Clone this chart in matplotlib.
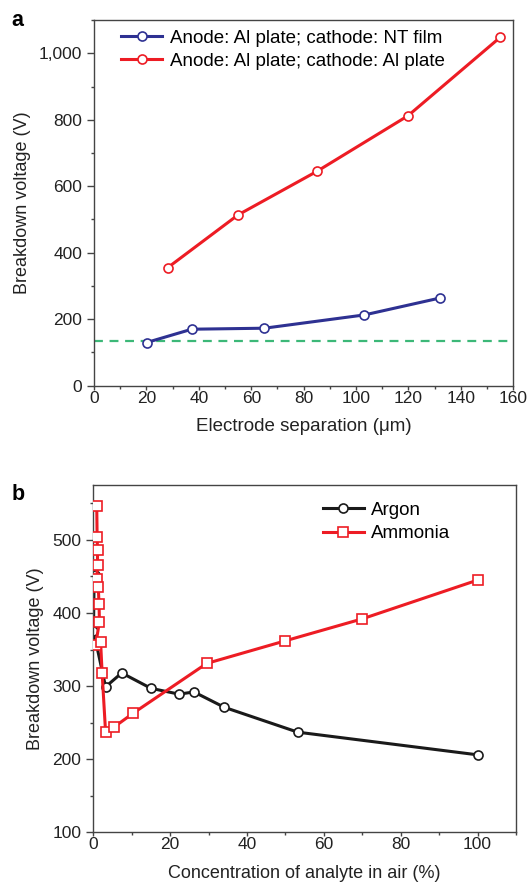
import numpy as np
import matplotlib
matplotlib.use("Agg")
import matplotlib.pyplot as plt
from matplotlib.ticker import MultipleLocator, FuncFormatter

plt.rcParams['font.family'] = ['Liberation Sans', 'DejaVu Sans']

# panel a data
sep_nt = [20.1, 37.3, 65.0, 103.2, 132.1]
volt_nt = [130, 170, 173, 213, 264]
sep_al = [28.1, 55, 85.1, 119.8, 155]
volt_al = [355, 514, 645, 812, 1048]
paschen_min = 135

# panel b data
argon_conc = [0.4, 0.2, 0.05, 3.2, 7.4, 15.0, 22.3, 26.2, 34.1, 53.2, 100]
argon_volt = [452, 440, 376, 299, 318, 297, 289, 292, 271, 237, 206]
ammonia_conc = [0.9, 1.0, 1.1, 1.1, 0.9, 1.3, 1.5, 1.6, 0.6, 1.9, 2.3, 3.2, 5.4, 10.4, 29.5, 50.0, 70.0, 100]
ammonia_volt = [547, 504, 486, 465, 447, 436, 412, 388, 356, 361, 318, 237, 244, 263, 331, 362, 392, 445]

blue = '#2e3192'
red = '#ed1c24'
green = '#3cb878'
spine_c = '#444444'
text_c = '#222222'

fig = plt.figure(figsize=(5.3, 8.9), dpi=100)
ax1 = fig.add_axes([0.1774, 0.5666, 0.7911, 0.4109])
ax2 = fig.add_axes([0.1760, 0.0648, 0.7976, 0.3902])


def style(ax):
    for s in ax.spines.values():
        s.set_color(spine_c)
        s.set_linewidth(1.0)
    ax.tick_params(which='both', direction='out', colors=spine_c, labelcolor=text_c,
                   labelsize=12.5, top=False, right=False)
    ax.tick_params(axis='y', which='major', length=5, width=1)
    ax.tick_params(axis='y', which='minor', length=2.5, width=1)
    ax.tick_params(axis='x', which='major', length=3, width=1, pad=0.5)
    ax.tick_params(axis='x', which='minor', length=2, width=1)


# panel a
ax1.axhline(paschen_min, color=green, lw=1.6, ls=(0, (4, 3)), zorder=1)
ax1.plot(sep_nt, volt_nt, color=blue, lw=2.2, marker='o', ms=6.5, mfc='white',
         mec=blue, mew=1.2, label='Anode: Al plate; cathode: NT film', zorder=3)
ax1.plot(sep_al, volt_al, color=red, lw=2.2, marker='o', ms=6.5, mfc='white',
         mec=red, mew=1.2, label='Anode: Al plate; cathode: Al plate', zorder=3)
ax1.set_xlim(0, 160)
ax1.set_ylim(0, 1100)
ax1.xaxis.set_major_locator(MultipleLocator(20))
ax1.xaxis.set_minor_locator(MultipleLocator(10))
ax1.yaxis.set_major_locator(MultipleLocator(200))
ax1.yaxis.set_minor_locator(MultipleLocator(100))
ax1.yaxis.set_major_formatter(FuncFormatter(lambda v, p: '{:,.0f}'.format(v)))
style(ax1)
ax1.set_xlabel('Electrode separation (μm)', fontsize=13.5, color=text_c, labelpad=9)
ax1.set_ylabel('Breakdown voltage (V)', fontsize=13, color=text_c, labelpad=6)
ax1.legend(loc='upper left', bbox_to_anchor=(0.0465, 0.994), frameon=False, fontsize=13.5,
           handlelength=2.2, handletextpad=0.4, labelspacing=0.32, borderaxespad=0)

# panel b
ax2.plot(argon_conc, argon_volt, color='#1a1a1a', lw=2.2, marker='o', ms=6.5, mfc='white',
         mec='#1a1a1a', mew=1.2, label='Argon', zorder=2)
ax2.plot(ammonia_conc, ammonia_volt, color=red, lw=2.2, marker='s', ms=6.5, mfc='white',
         mec=red, mew=1.2, label='Ammonia', zorder=3)
ax2.set_xlim(0, 110)
ax2.set_ylim(100, 575)
ax2.xaxis.set_major_locator(MultipleLocator(20))
ax2.xaxis.set_minor_locator(MultipleLocator(10))
ax2.yaxis.set_major_locator(MultipleLocator(100))
ax2.yaxis.set_minor_locator(MultipleLocator(50))
ax2.set_xticks([0, 20, 40, 60, 80, 100])
style(ax2)
ax2.set_xlabel('Concentration of analyte in air (%)', fontsize=13, color=text_c, labelpad=9)
ax2.set_ylabel('Breakdown voltage (V)', fontsize=13, color=text_c, labelpad=6)
ax2.legend(loc='upper left', bbox_to_anchor=(0.525, 0.973), frameon=False, fontsize=13.5,
           handlelength=2.2, handletextpad=0.4, labelspacing=0.32, borderaxespad=0)

fig.text(0.022, 0.9775, 'a', fontsize=15.5, fontweight='bold', va='center', ha='left')
fig.text(0.022, 0.444, 'b', fontsize=15.5, fontweight='bold', va='center', ha='left')

fig.savefig('out.png', dpi=100)
